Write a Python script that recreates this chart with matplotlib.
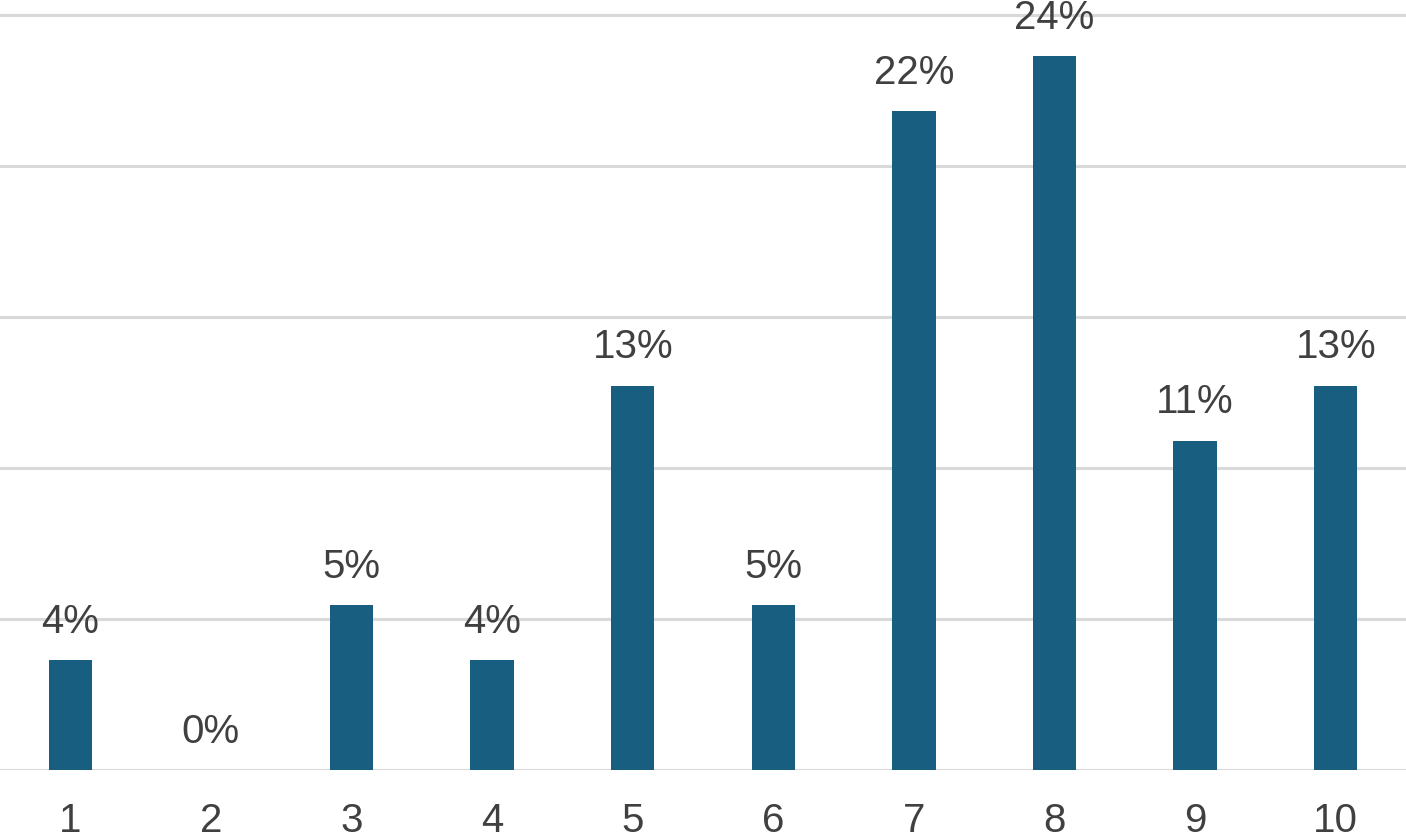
import matplotlib
matplotlib.use("Agg")
import matplotlib.pyplot as plt

plt.rcParams['font.family'] = ['Liberation Sans', 'DejaVu Sans']

categories = ['1', '2', '3', '4', '5', '6', '7', '8', '9', '10']
counts = [2, 0, 3, 2, 7, 3, 12, 13, 6, 7]  # answers per score, 55 in total
total = sum(counts)
shares = [100 * c / total for c in counts]

bar_color = '#175e80'
text_color = '#404040'

fig = plt.figure(figsize=(14.06, 8.33), dpi=100)
ax = fig.add_axes([0, 63 / 833, 1, 770 / 833])

x = range(1, len(categories) + 1)
bars = ax.bar(x, shares, width=0.31, color=bar_color, zorder=3)

for b, s in zip(bars, shares):
    ax.annotate(f"{s:.0f}%", (b.get_x() + b.get_width() / 2, b.get_height()),
                xytext=(0, 14), textcoords='offset points',
                ha='center', va='bottom', fontsize=29, color=text_color,
                annotation_clip=False, clip_on=False)

ax.set_xlim(0.5, 10.5)
ax.set_ylim(0, 25.5)
ax.set_yticks([0, 5, 10, 15, 20, 25])
ax.set_yticklabels([])
ax.tick_params(axis='y', length=0)
ax.set_xticks(list(x))
ax.set_xticklabels(categories, fontsize=29, color=text_color)
ax.tick_params(axis='x', length=0, pad=23)
ax.grid(axis='y', color='#d9d9d9', linewidth=2.2, zorder=0)
for sp in ax.spines.values():
    sp.set_visible(False)

fig.savefig("out.png", dpi=100)
